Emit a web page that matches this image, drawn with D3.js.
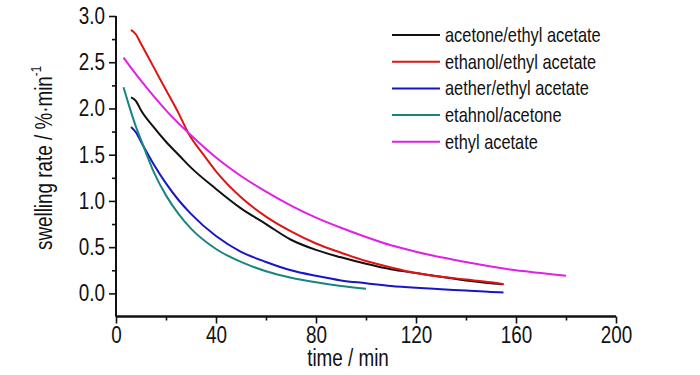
<!DOCTYPE html>
<html>
<head>
<meta charset="utf-8">
<script src="https://cdn.jsdelivr.net/npm/d3@7"></script>
<style>
  body { margin: 0; background: #fff; }
  text { font-family: "Liberation Sans", Arial, sans-serif; fill: #111; }
</style>
</head>
<body>
<script>
// values (time in min, swelling rate in %/min)
const seriesNames = ['acetone/ethyl acetate', 'ethanol/ethyl acetate', 'aether/ethyl acetate', 'etahnol/acetone', 'ethyl acetate']
const seriesColors = ['#111111', '#e01414', '#1616c8', '#1a857f', '#e020e6']

const acetoneEA = [[6,2.12],[8,2.08],[10,1.98],[15,1.80],[20,1.64],[25,1.50],[30,1.36],[40,1.13],[50,0.92],[60,0.75],[70,0.58],[80,0.47],[90,0.39],[100,0.32],[110,0.26],[120,0.22],[130,0.18],[140,0.14],[150,0.11],[155,0.10]]
const ethanolEA = [[6,2.85],[8,2.80],[10,2.70],[15,2.45],[20,2.20],[25,1.95],[29,1.73],[35,1.50],[40,1.32],[50,1.04],[60,0.83],[70,0.67],[80,0.54],[90,0.44],[100,0.35],[110,0.28],[120,0.22],[130,0.18],[140,0.15],[150,0.12],[155,0.10]]
const aetherEA = [[6,1.80],[8,1.74],[10,1.64],[15,1.40],[20,1.19],[25,1.01],[30,0.86],[40,0.62],[50,0.45],[60,0.34],[70,0.25],[80,0.19],[90,0.14],[100,0.11],[110,0.08],[120,0.06],[130,0.045],[140,0.03],[150,0.015],[155,0.01]]
const ethanolAcetone = [[3,2.23],[5,2.05],[8,1.80],[10,1.66],[12,1.52],[15,1.32],[20,1.06],[25,0.86],[30,0.70],[40,0.48],[50,0.34],[60,0.24],[70,0.17],[80,0.12],[90,0.08],[100,0.05]]
const ethylAcetate = [[3,2.55],[10,2.30],[20,1.98],[30,1.71],[40,1.47],[50,1.27],[60,1.10],[70,0.95],[80,0.82],[90,0.71],[100,0.61],[110,0.52],[120,0.45],[130,0.39],[140,0.34],[150,0.29],[160,0.25],[170,0.22],[180,0.19]]

const allSeries = [acetoneEA, ethanolEA, aetherEA, ethanolAcetone, ethylAcetate]

const xMajor = [0, 40, 80, 120, 160, 200]
const xMinor = [20, 60, 100, 140, 180]
const yMajor = [0, 0.5, 1.0, 1.5, 2.0, 2.5, 3.0]
const yMinor = [0.25, 0.75, 1.25, 1.75, 2.25, 2.75]

const narrow = 0.82 // the original font is a condensed Arial

const svg = d3.select('body').append('svg')
  .attr('width', 700)
  .attr('height', 375)

const x = d3.scaleLinear().domain([0, 200]).range([116, 616])
const y = d3.scaleLinear().domain([-0.25, 3.0]).range([316.5, 16])

// squeeze a text around its own anchor x
function squeeze(sel) {
  sel.attr('transform', function() {
    const x0 = +this.getAttribute('x') || 0
    return `translate(${x0},0) scale(${narrow},1) translate(${-x0},0)`
  })
}

// axes
const xAxis = svg.append('g').attr('transform', `translate(0,${y(-0.25)})`)
xAxis.call(d3.axisBottom(x).tickValues(xMajor).tickFormat(d3.format('d')).tickSize(7).tickPadding(3))
xAxis.append('g').call(d3.axisBottom(x).tickValues(xMinor).tickFormat('').tickSize(4))

const yAxis = svg.append('g').attr('transform', `translate(${x(0)},0)`)
yAxis.call(d3.axisLeft(y).tickValues(yMajor).tickFormat(d3.format('.1f')).tickSize(7).tickPadding(4))
yAxis.append('g').call(d3.axisLeft(y).tickValues(yMinor).tickFormat('').tickSize(4))

svg.selectAll('.domain').attr('stroke', '#111').attr('stroke-width', 2)
svg.selectAll('.tick line').attr('stroke', '#111').attr('stroke-width', 1.6)
svg.selectAll('.tick text').attr('font-size', 23).attr('fill', '#111')
  .style('font-family', '"Liberation Sans", Arial, sans-serif')
  .call(squeeze)
yAxis.selectAll('path.domain').attr('d', `M0,${y(-0.25)}V${y(3.0)}`)
xAxis.selectAll('path.domain').attr('d', `M${x(0)},0H${x(200)}`)

// axis titles
svg.append('g').attr('transform', `translate(${(x(0) + x(200)) / 2 - 18},366) scale(${narrow},1)`)
  .append('text')
  .attr('text-anchor', 'middle').attr('font-size', 23)
  .text('time / min')

const yt = svg.append('g').attr('transform', 'translate(52,158) rotate(-90) scale(' + narrow + ',1)')
  .append('text')
  .attr('text-anchor', 'middle').attr('font-size', 23)
yt.append('tspan').text('swelling rate / %·min')
yt.append('tspan').attr('dy', -11).attr('font-size', 14).text('-1')

// curves
const line = d3.line()
  .x(d => x(d[0]))
  .y(d => y(d[1]))
  .curve(d3.curveMonotoneX)

svg.append('g').selectAll('path')
  .data(allSeries)
  .join('path')
  .attr('d', line)
  .attr('fill', 'none')
  .attr('stroke', (d, i) => seriesColors[i])
  .attr('stroke-width', 2)

// legend
const legend = svg.append('g').attr('transform', 'translate(392,35)')
const rows = legend.selectAll('g')
  .data(seriesNames)
  .join('g')
  .attr('transform', (d, i) => `translate(0,${i * 26.7})`)
rows.append('line')
  .attr('x1', 0).attr('x2', 48)
  .attr('stroke', (d, i) => seriesColors[i])
  .attr('stroke-width', 2)
rows.append('text')
  .attr('x', 53).attr('dy', '0.35em')
  .attr('font-size', 20)
  .text(d => d)
  .call(squeeze)
</script>
</body>
</html>
